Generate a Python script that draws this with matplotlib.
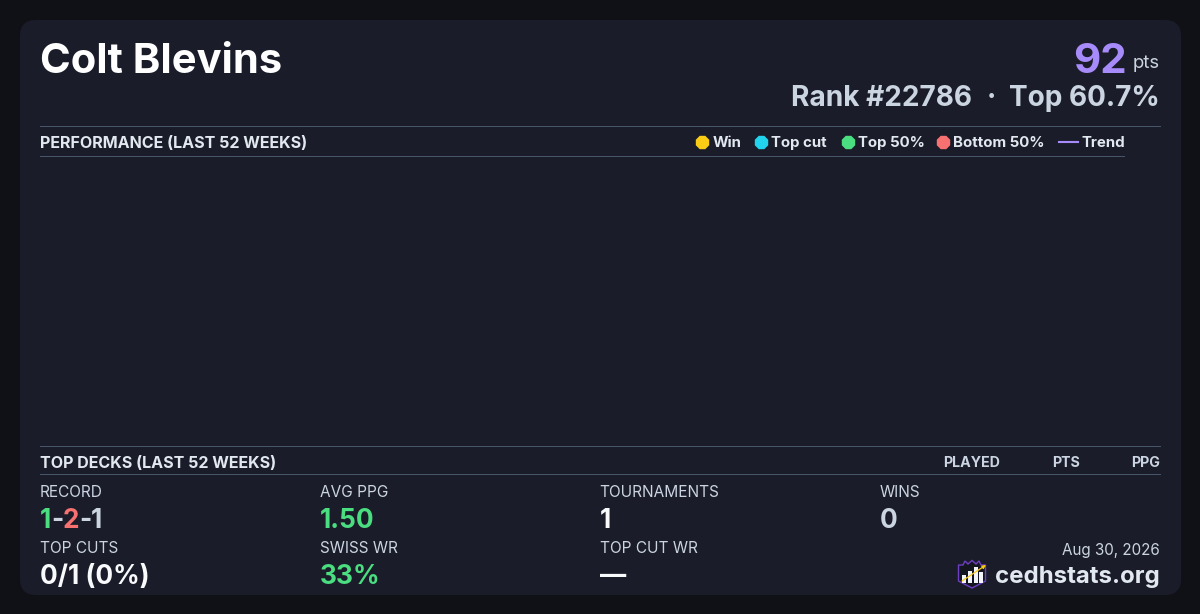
#!/usr/bin/env python3

import matplotlib
matplotlib.use("Agg")
import matplotlib.pyplot as plt
from matplotlib.patches import FancyBboxPatch, Polygon, Rectangle

plt.rcParams["font.family"] = ["Inter", "DejaVu Sans"]

# Card content
player_name = "Colt Blevins"
points = "92"
rank_left = "Rank #22786"
rank_dot = "·"
rank_right = "Top 60.7%"
perf_title = "PERFORMANCE (LAST 52 WEEKS)"
decks_title = "TOP DECKS (LAST 52 WEEKS)"
deck_columns = ["PLAYED", "PTS", "PPG"]
deck_column_right = [1000, 1080, 1160]

legend_labels = ["Win", "Top cut", "Top 50%", "Bottom 50%"]
legend_colors = ["#facc15", "#22d3ee", "#4ade80", "#f87171"]
legend_dot_x = [702, 761, 847.5, 943]
trend_label = "Trend"

stat_labels = ["RECORD", "AVG PPG", "TOURNAMENTS", "WINS", "TOP CUTS", "SWISS WR", "TOP CUT WR"]
stat_values = [None, "1.50", "1", "0", "0/1 (0%)", "33%", "—"]
stat_colors = [None, "#4ade80", "#f8fafc", "#cbd5e1", "#f8fafc", "#4ade80", "#f8fafc"]
stat_x = [40, 320, 599.5, 880, 40, 320, 600]
stat_label_y = [490.8, 490.8, 490.8, 490.8, 546.8, 546.8, 546.8]
stat_value_y = [518, 518, 518, 518, 574, 574, 574]

record_parts = ["1", "-", "2", "-", "1"]
record_colors = ["#4ade80", "#cbd5e1", "#f87171", "#cbd5e1", "#cbd5e1"]

date_text = "Aug 30, 2026"
site_text = "cedhstats.org"

BG = "#0f1117"
CARD = "#1a1d29"
RULE = "#475569"


def px(size):
  return size * 0.72


def main():
  fig = plt.figure(figsize=(12, 6.14), dpi=100, facecolor=BG)
  ax = fig.add_axes([0, 0, 1, 1])
  ax.set_xlim(0, 1200)
  ax.set_ylim(614, 0)
  ax.axis("off")

  ax.add_patch(FancyBboxPatch((20, 20), 1161, 575, boxstyle="round,pad=0,rounding_size=16",
    facecolor=CARD, edgecolor="none"))

  # Header
  ax.text(39.5, 58, player_name, fontsize=px(41.7), fontweight="bold", color="#ffffff", va="center_baseline")
  ax.text(1127, 58, points, fontsize=px(42), fontweight="bold", color="#a78bfa", ha="right", va="center_baseline")
  ax.text(1160, 61, "pts", fontsize=px(18.5), color="#cbd5e1", ha="right", va="center_baseline")
  ax.text(972, 95.5, rank_left, fontsize=px(28), fontweight="bold", color="#cbd5e1", ha="right", va="center_baseline")
  ax.text(991, 95.5, rank_dot, fontsize=px(28), fontweight="bold", color="#cbd5e1", ha="center", va="center_baseline")
  ax.text(1160, 95.5, rank_right, fontsize=px(28), fontweight="bold", color="#cbd5e1", ha="right", va="center_baseline")

  # Section rules
  ax.plot([40, 1160], [125.7, 125.7], color=RULE, lw=0.72)
  ax.plot([40, 1124], [155.7, 155.7], color=RULE, lw=0.72)
  ax.plot([40, 1160], [445.7, 445.7], color=RULE, lw=0.72)
  ax.plot([40, 1160], [473.7, 473.7], color=RULE, lw=0.72)

  ax.text(40, 141.5, perf_title, fontsize=px(16.05), fontweight="bold", color="#e2e8f0", va="center_baseline")
  ax.text(40, 461.5, decks_title, fontsize=px(16.05), fontweight="bold", color="#e2e8f0", va="center_baseline")

  # Legend
  for label, color, x in zip(legend_labels, legend_colors, legend_dot_x):
    ax.scatter([x], [141.5], s=px(14.5) ** 2, color=color, marker="8", linewidths=0, zorder=3)
    ax.text(x + 10.2, 141.3, label, fontsize=px(15), fontweight="bold", color="#e2e8f0", va="center_baseline")
  ax.plot([1059, 1078], [141.5, 141.5], color="#a78bfa", lw=1.5)
  ax.text(1081, 141.3, trend_label, fontsize=px(15), fontweight="bold", color="#e2e8f0", va="center_baseline")

  # Deck table header
  for label, x in zip(deck_columns, deck_column_right):
    ax.text(x, 461.5, label, fontsize=px(14.2), fontweight="bold", color="#cbd5e1", ha="right", va="center_baseline")

  # Stats grid
  for label, value, color, x, ly, vy in zip(stat_labels, stat_values, stat_colors, stat_x, stat_label_y, stat_value_y):
    ax.text(x, ly, label, fontsize=px(15.4), color="#cbd5e1", va="center_baseline")
    if value is not None:
      ax.text(x, vy, value, fontsize=px(26.3), fontweight="bold", color=color, va="center_baseline")

  # Record is drawn piece by piece, each part with its own colour
  renderer = fig.canvas.get_renderer()
  x = 40
  for part, color in zip(record_parts, record_colors):
    t = ax.text(x, 518, part, fontsize=px(26.3), fontweight="bold", color=color, va="center_baseline")
    x = ax.transData.inverted().transform(t.get_window_extent(renderer).get_points())[1][0] - 0.3

  # Footer
  ax.text(1160, 549.5, date_text, fontsize=px(15.2), color="#cbd5e1", ha="right", va="center_baseline")
  ax.text(1160, 574, site_text, fontsize=px(24), fontweight="bold", color="#e2e8f0", ha="right", va="center_baseline")

  # Logo: crowned shield with bars and an arrow
  shield = [(958.5, 565), (963, 565), (965, 561), (968, 564), (972, 560.5), (976, 564), (979, 561), (981, 565),
    (985.5, 565), (985.5, 581), (972, 588), (958.5, 581)]
  ax.add_patch(Polygon(shield, closed=True, facecolor="#14161f", edgecolor="#6d3fc4", lw=1.0))
  for bx, by, bh in [(962, 575, 8), (968, 571, 12), (974, 567, 16), (979, 572, 11)]:
    ax.add_patch(Rectangle((bx, by), 3.5, bh, facecolor="#f1f5f9", edgecolor="none", zorder=3))
  ax.annotate("", xy=(986, 565), xytext=(962, 581), zorder=4,
    arrowprops=dict(arrowstyle="-|>", color="#facc15", lw=0.9, mutation_scale=5, shrinkA=0, shrinkB=0))

  fig.savefig("out.png", dpi=100, facecolor=BG)


if __name__ == "__main__":
  main()
